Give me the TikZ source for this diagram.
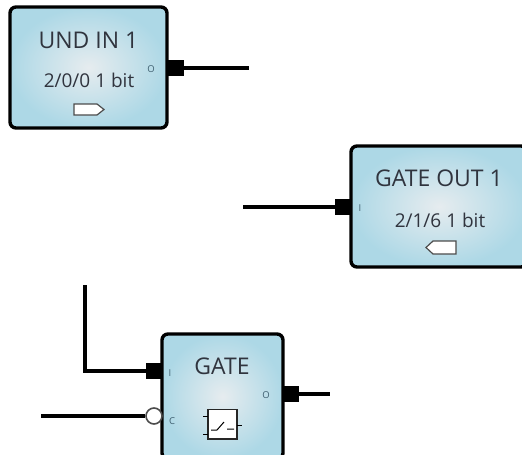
\documentclass[tikz,border=0pt]{standalone}
\usepackage{fontspec}
\setmainfont{Open Sans}
\definecolor{tealbg}{HTML}{ADD8E6}
\definecolor{midbg}{HTML}{E6ECEF}
\definecolor{title}{HTML}{30343E}
\definecolor{portlbl}{HTML}{3F5F70}
\tikzset{
  x=1pt,y=-1pt,
  block/.style={draw=black,line width=3.4pt,rounded corners=6pt,inner sep=0pt,
    inner color=midbg,outer color=tealbg},
  port/.style={fill=black,draw=none,inner sep=0pt,minimum width=16pt,minimum height=16pt},
  wire/.style={line width=3.2pt,draw=black},
  bubble/.style={circle,draw=black!70,line width=1.6pt,fill=white,inner sep=0pt,minimum size=16pt},
  ttl/.style={text=title,font=\fontsize{23}{26}\selectfont,inner sep=0pt},
  sub/.style={text=title,font=\fontsize{19}{22}\selectfont,inner sep=0pt},
  pin/.style={text=portlbl,font=\fontsize{9.5}{11}\selectfont,inner sep=0pt},
  icon/.style={draw=black!70,line width=1.2pt,fill=white},
  iconline/.style={draw=black,line width=1pt},
}
\begin{document}
\begin{tikzpicture}
\useasboundingbox (0,0) rectangle (522,455);
\clip (0,0) rectangle (522,455);
% blocks
\node[block,minimum width=157pt,minimum height=121pt] (und) at (88.5,67.5) {};
\node[block,minimum width=176pt,minimum height=121pt] (gout) at (439,206.5) {};
\node[block,minimum width=121pt,minimum height=125pt] (gate) at (222.5,396.5) {};
% ports
\node[port] (undO) at (176,68) {};
\node[port] (goutI) at (343,207) {};
\node[port] (gateI) at (154,371) {};
\node[port] (gateO) at (290.5,394) {};
\node[bubble] (gateC) at (154,416) {};
% free ends
\coordinate (e1) at (249,68);
\coordinate (e2) at (243,207);
\coordinate (e3) at (85,285);
\coordinate (e4) at (41,416);
\coordinate (e5) at (330,394);
% wires
\draw[wire] (undO.center) -- (e1);
\draw[wire] (e2) -- (goutI.center);
\draw[wire] (e3) |- (gateI.center);
\draw[wire] (e4) -- (gateC.west);
\draw[wire] (gateO.center) -- (e5);
% texts
\node[ttl] (t1) at (88.5,40) {UND IN 1};
\node[sub] (s1) at (89,80) {2/0/0 1 bit};
\node[ttl] (t2) at (439,178) {GATE OUT 1};
\node[sub] (s2) at (440,220) {2/1/6 1 bit};
\node[ttl] (t3) at (222,366) {GATE};
\node[pin] (p1) at (151,69) {O};
\node[pin] (p2) at (360,208) {I};
\node[pin] (p3) at (170,373) {I};
\node[pin] (p4) at (172,421) {C};
\node[pin] (p5) at (266,395) {O};
% icons
\draw[icon] (74,104) -- (97,104) -- (104,109.5) -- (97,115) -- (74,115) -- cycle;
\draw[icon] (456,241) -- (433,241) -- (426,247.5) -- (433,254) -- (456,254) -- cycle;
\draw[icon,fill=white,draw=black!85] (208,409.5) rectangle (237,439);
\draw[iconline] (203,416) -- (208,416) (203,434) -- (208,434) (237,425) -- (242,425);
\draw[iconline] (211,430) -- (217,430) -- (224,422) (227,429) -- (234,429);
\end{tikzpicture}
\end{document}
